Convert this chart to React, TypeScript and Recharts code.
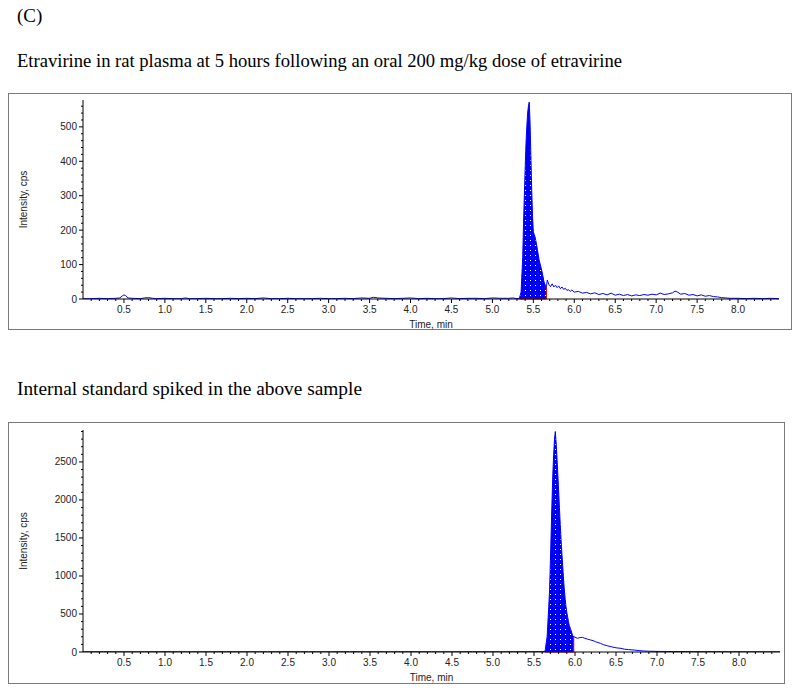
import React from 'react';
import { ComposedChart, Line, Area, XAxis, YAxis, ReferenceLine } from 'recharts';

// ---------- DATA ----------
const topTime = [
  0, 0.1, 0.2, 0.3, 0.4, 0.45, 0.48, 0.5, 0.52, 0.55,
  0.6, 0.7, 0.75, 0.8, 0.85, 0.9, 1.0, 1.1, 1.2, 1.25,
  1.3, 1.4, 1.5, 1.6, 1.7, 1.8, 1.9, 2.0, 2.1, 2.2,
  2.3, 2.4, 2.5, 2.6, 2.7, 2.8, 2.9, 3.0, 3.1, 3.2,
  3.3, 3.4, 3.5, 3.55, 3.6, 3.7, 3.8, 3.9, 4.0, 4.1,
  4.2, 4.3, 4.4, 4.5, 4.6, 4.7, 4.8, 4.9, 5.0, 5.1,
  5.2, 5.25, 5.3, 5.33, 5.35, 5.37, 5.38, 5.39, 5.4, 5.41,
  5.42, 5.43, 5.44, 5.45, 5.46, 5.47, 5.48, 5.49, 5.5, 5.51,
  5.52, 5.53, 5.54, 5.55, 5.56, 5.57, 5.59, 5.61, 5.63, 5.65,
  5.66, 5.67, 5.69, 5.71, 5.73, 5.75, 5.77, 5.79, 5.81, 5.83,
  5.85, 5.87, 5.89, 5.91, 5.93, 5.95, 5.97, 6.0, 6.05, 6.1,
  6.15, 6.2, 6.25, 6.3, 6.35, 6.4, 6.45, 6.5, 6.55, 6.6,
  6.65, 6.7, 6.75, 6.8, 6.85, 6.9, 6.95, 7.0, 7.05, 7.1,
  7.15, 7.2, 7.23, 7.26, 7.3, 7.35, 7.4, 7.45, 7.5, 7.55,
  7.6, 7.65, 7.7, 7.75, 7.8, 7.85, 7.9, 8.0, 8.1, 8.2,
  8.3, 8.4, 8.5,
];
const topIntensity = [
  1, 1, 2, 1, 2, 3, 9, 12, 10, 3,
  2, 1, 3, 4, 2, 1, 2, 1, 1, 3,
  1, 1, 2, 1, 1, 2, 1, 2, 1, 3,
  1, 1, 2, 1, 1, 1, 2, 1, 1, 2,
  1, 3, 2, 5, 3, 2, 1, 2, 3, 1,
  2, 1, 1, 3, 1, 2, 2, 1, 3, 2,
  2, 3, 1, 2, 20, 120, 220, 300, 380, 450,
  500, 540, 560, 572, 510, 413, 317, 240, 195, 188,
  181, 170, 157, 143, 128, 114, 95, 75, 50, 37,
  36, 55, 42, 36, 44, 35, 40, 33, 38, 30,
  35, 28, 31, 25, 27, 22, 26, 20, 22, 17,
  19, 15, 18, 13, 16, 12, 17, 11, 14, 10,
  13, 9, 12, 10, 13, 11, 14, 12, 17, 13,
  15, 18, 23, 20, 14, 16, 11, 13, 9, 12,
  8, 10, 7, 6, 4, 3, 2, 2, 1, 2,
  1, 2, 1,
];
const topPeakWindow = [5.33, 5.66];
const topYMax = 578;
const topYLabels = [0, 100, 200, 300, 400, 500];

const botTime = [
  0, 0.25, 0.5, 0.75, 1.0, 1.25, 1.5, 1.75, 2.0, 2.25,
  2.5, 2.75, 3.0, 3.25, 3.5, 3.75, 4.0, 4.25, 4.5, 4.75,
  5.0, 5.25, 5.5, 5.6, 5.635, 5.66, 5.68, 5.69, 5.7, 5.71,
  5.72, 5.73, 5.74, 5.75, 5.76, 5.77, 5.78, 5.79, 5.8, 5.81,
  5.82, 5.83, 5.84, 5.85, 5.86, 5.87, 5.88, 5.89, 5.9, 5.91,
  5.92, 5.93, 5.95, 5.97, 5.985, 6.0, 6.03, 6.06, 6.09, 6.12,
  6.15, 6.19, 6.22, 6.25, 6.28, 6.31, 6.35, 6.4, 6.44, 6.5,
  6.56, 6.6, 6.65, 6.72, 6.78, 6.84, 6.9, 7.0, 7.2, 7.5,
  7.8, 8.1, 8.5,
];
const botIntensity = [
  3, 4, 3, 3, 4, 3, 3, 4, 3, 3,
  4, 3, 3, 4, 3, 3, 4, 3, 3, 4,
  3, 4, 4, 5, 10, 200, 600, 816, 1200, 1605,
  2000, 2351, 2600, 2800, 2900, 2750, 2550, 2351, 2130, 1900,
  1680, 1474, 1300, 1130, 960, 816, 700, 600, 520, 465,
  400, 350, 290, 220, 200, 195, 180, 190, 193, 180,
  170, 158, 150, 135, 125, 114, 95, 80, 70, 55,
  48, 38, 32, 26, 18, 13, 10, 8, 6, 5,
  4, 3, 3,
];
const botPeakWindow = [5.635, 5.985];
const botYMax = 2920;
const botYLabels = [0, 500, 1000, 1500, 2000, 2500];

const xTickLabels = ['0.5', '1.0', '1.5', '2.0', '2.5', '3.0', '3.5', '4.0', '4.5', '5.0', '5.5', '6.0', '6.5', '7.0', '7.5', '8.0'];
const xDomain = [0, 8.5];

const panelLabel = '(C)';
const topTitle = 'Etravirine in rat plasma at 5 hours following an oral 200 mg/kg dose of etravirine';
const botTitle = 'Internal standard spiked in the above sample';
const xAxisTitle = 'Time, min';
const yAxisTitle = 'Intensity, cps';

// ---------- HELPERS ----------
const AXIS_FONT = '"Liberation Sans", Arial, sans-serif';
const SERIF = '"Liberation Serif", "Times New Roman", serif';
const BLUE = '#0000ff';

const xMajor = xTickLabels.map(parseFloat);
const xMinor: number[] = [];
for (let i = 1; i <= 84; i++) xMinor.push(i / 10);
const isXMajor = (v: number) => xMajor.some((m) => Math.abs(m - v) < 1e-6);

function buildData(time: number[], values: number[], win: number[]) {
  return time.map((t, i) => ({
    t,
    v: values[i],
    fill: t >= win[0] - 1e-9 && t <= win[1] + 1e-9 ? values[i] : null,
  }));
}

const XTick = (props: any) => {
  const { x, y, payload } = props;
  const v = payload.value as number;
  const major = isXMajor(v);
  return (
    <g>
      <line x1={x} x2={x} y1={y} y2={y + (major ? 4 : 2)} stroke="#000" strokeWidth={1} />
      {major && (
        <text x={x} y={y + 14} textAnchor="middle" fontSize={10} fill="#222" fontFamily={AXIS_FONT}>
          {v.toFixed(1)}
        </text>
      )}
    </g>
  );
};

const makeYTick = (labels: number[]) => (props: any) => {
  const { x, y, payload } = props;
  const v = payload.value as number;
  const major = labels.some((m) => Math.abs(m - v) < 1e-6);
  return (
    <g>
      <line x1={x - (major ? 4 : 2)} x2={x} y1={y} y2={y} stroke="#000" strokeWidth={1} />
      {major && (
        <text x={x - 6} y={y + 3.5} textAnchor="end" fontSize={10} fill="#222" fontFamily={AXIS_FONT}>
          {v}
        </text>
      )}
    </g>
  );
};

type ChartProps = {
  time: number[];
  values: number[];
  win: number[];
  yMax: number;
  yLabels: number[];
  yMinorStep: number;
  width: number;
  height: number;
  margin: { top: number; right: number; left: number; bottom: number };
  xAxisHeight: number;
  patternId: string;
};

function Chromatogram(p: ChartProps) {
  const data = buildData(p.time, p.values, p.win);
  const yTicks: number[] = [];
  for (let v = 0; v <= p.yMax; v += p.yMinorStep) yTicks.push(v);
  const endIdx = p.time.findIndex((t) => Math.abs(t - p.win[1]) < 1e-9);
  const endVal = p.values[endIdx];
  const YTick = makeYTick(p.yLabels);
  return (
    <ComposedChart width={p.width} height={p.height} data={data} margin={p.margin}>
      <defs>
        <pattern id={p.patternId} width={5} height={5} patternUnits="userSpaceOnUse">
          <rect width={5} height={5} fill="#0000f0" />
          <rect x={2} y={2} width={1} height={1} fill="#ffffff" />
        </pattern>
      </defs>
      <XAxis
        dataKey="t"
        type="number"
        domain={xDomain}
        ticks={xMinor}
        interval={0}
        height={p.xAxisHeight}
        tickSize={0}
        tickMargin={0}
        tickLine={false}
        axisLine={{ stroke: '#000' }}
        tick={(tp: any) => <XTick {...tp} />}
        allowDataOverflow
        label={{
          content: (lp: any) => {
            const vb = lp.viewBox || {};
            return (
              <text x={vb.x + vb.width / 2} y={vb.y + 29} textAnchor="middle" fontSize={10} fill="#222" fontFamily={AXIS_FONT}>
                {xAxisTitle}
              </text>
            );
          },
        }}
      />
      <YAxis
        type="number"
        domain={[0, p.yMax]}
        ticks={yTicks}
        interval={0}
        width={75}
        tickSize={0}
        tickMargin={0}
        tickLine={false}
        axisLine={{ stroke: '#000' }}
        tick={(tp: any) => <YTick {...tp} />}
        allowDataOverflow
        label={{
          content: (lp: any) => {
            const vb = lp.viewBox || {};
            const cx = vb.x + 15;
            const cy = vb.y + vb.height / 2;
            return (
              <text x={cx} y={cy} transform={`rotate(-90, ${cx}, ${cy})`} textAnchor="middle" dominantBaseline="central" fontSize={10} fill="#222" fontFamily={AXIS_FONT}>
                {yAxisTitle}
              </text>
            );
          },
        }}
      />
      <Area
        type="linear"
        dataKey="fill"
        stroke="none"
        fill={`url(#${p.patternId})`}
        fillOpacity={1}
        connectNulls={false}
        isAnimationActive={false}
        baseValue={0}
      />
      <Line type="linear" dataKey="v" stroke={BLUE} strokeWidth={1} dot={false} isAnimationActive={false} />
      <ReferenceLine segment={[{ x: p.win[0], y: 0 }, { x: p.win[1], y: 0 }]} stroke="#ff0000" strokeWidth={1} />
      <ReferenceLine segment={[{ x: p.win[1], y: 0 }, { x: p.win[1], y: endVal }]} stroke="#e00000" strokeWidth={1} />
    </ComposedChart>
  );
}

export default function App() {
  return (
    <div style={{ position: 'absolute', left: 0, top: 0, width: 800, height: 692, background: '#fff', overflow: 'hidden' }}>
      <svg width={800} height={692} style={{ position: 'absolute', left: 0, top: 0 }}>
        <text x={17} y={21.5} fontSize={19} fontFamily={SERIF} fill="#000">{panelLabel}</text>
        <text x={17} y={66.5} textLength={605} lengthAdjust="spacingAndGlyphs" fontSize={18.6} fontFamily={SERIF} fill="#000">{topTitle}</text>
        <text x={17} y={395} textLength={345} lengthAdjust="spacingAndGlyphs" fontSize={19} fontFamily={SERIF} fill="#000">{botTitle}</text>
      </svg>
      <div style={{ position: 'absolute', left: 8, top: 93, width: 784, height: 237, boxSizing: 'border-box', border: '1.5px solid #7a7a7a' }} />
      <div style={{ position: 'absolute', left: 8, top: 422, width: 777, height: 262, boxSizing: 'border-box', border: '1.5px solid #7a7a7a' }} />
      <div style={{ position: 'absolute', left: 8, top: 93 }}>
        <Chromatogram
          time={topTime}
          values={topIntensity}
          win={topPeakWindow}
          yMax={topYMax}
          yLabels={topYLabels}
          yMinorStep={20}
          width={784}
          height={237}
          margin={{ top: 7, right: 13, left: 0, bottom: 0 }}
          xAxisHeight={31}
          patternId="dotsTop"
        />
      </div>
      <div style={{ position: 'absolute', left: 8, top: 422 }}>
        <Chromatogram
          time={botTime}
          values={botIntensity}
          win={botPeakWindow}
          yMax={botYMax}
          yLabels={botYLabels}
          yMinorStep={100}
          width={777}
          height={262}
          margin={{ top: 8, right: 5, left: 0, bottom: 0 }}
          xAxisHeight={32}
          patternId="dotsBot"
        />
      </div>
    </div>
  );
}
